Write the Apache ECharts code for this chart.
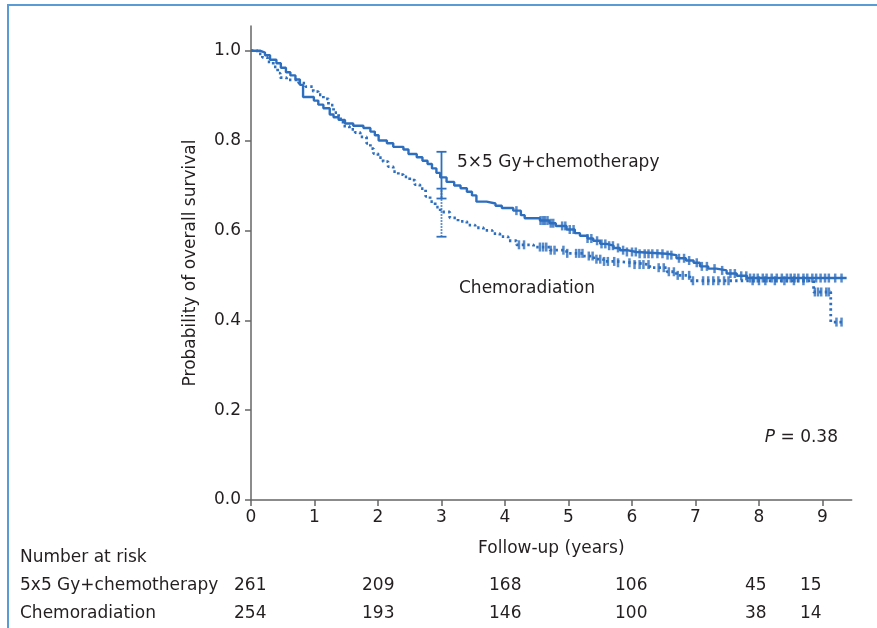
<!DOCTYPE html>
<html>
<head>
<meta charset="utf-8">
<script src="https://cdn.jsdelivr.net/npm/echarts@6/dist/echarts.min.js"></script>
<style>
html,body{margin:0;padding:0;background:#fff;}
#main{width:877px;height:628px;}
</style>
</head>
<body>
<div id="main"></div>
<script>
// ---------- DATA ----------
var xTicks = [0, 1, 2, 3, 4, 5, 6, 7, 8, 9];
var yTicks = [0, 0.2, 0.4, 0.6, 0.8, 1.0];

// 5x5 Gy + chemotherapy (solid) KM steps: time, survival
var solidT = [0, 0.14, 0.22, 0.30, 0.40, 0.47, 0.55, 0.62, 0.70, 0.77, 0.82, 0.99, 1.06, 1.14, 1.24, 1.30, 1.38, 1.48, 1.61, 1.77, 1.88, 1.95, 2.01, 2.14, 2.24, 2.40, 2.48, 2.61, 2.70, 2.78, 2.85, 2.92, 2.98, 3.08, 3.20, 3.30, 3.40, 3.48, 3.55, 3.71, 3.85, 3.95, 4.13, 4.25, 4.31, 4.55, 4.70, 4.80, 4.97, 5.10, 5.18, 5.30, 5.39, 5.50, 5.60, 5.71, 5.81, 5.92, 6.07, 6.55, 6.70, 6.85, 6.97, 7.07, 7.20, 7.33, 7.49, 7.65, 7.81, 9.38];
var solidS = [1.0, 0.996, 0.990, 0.980, 0.972, 0.962, 0.952, 0.945, 0.936, 0.924, 0.897, 0.889, 0.880, 0.872, 0.858, 0.852, 0.846, 0.838, 0.833, 0.828, 0.820, 0.812, 0.800, 0.794, 0.786, 0.780, 0.770, 0.763, 0.755, 0.748, 0.738, 0.728, 0.718, 0.708, 0.700, 0.694, 0.686, 0.678, 0.664, 0.660, 0.655, 0.650, 0.644, 0.634, 0.627, 0.622, 0.616, 0.610, 0.602, 0.594, 0.588, 0.582, 0.577, 0.570, 0.566, 0.561, 0.556, 0.552, 0.548, 0.545, 0.538, 0.533, 0.528, 0.520, 0.515, 0.511, 0.504, 0.499, 0.494, 0.494];

// Chemoradiation (dotted) KM steps
var chemoT = [0, 0.10, 0.18, 0.26, 0.35, 0.42, 0.46, 0.56, 0.75, 0.86, 0.98, 1.06, 1.14, 1.22, 1.30, 1.38, 1.45, 1.55, 1.64, 1.72, 1.82, 1.88, 1.93, 2.00, 2.08, 2.16, 2.24, 2.32, 2.40, 2.50, 2.58, 2.66, 2.75, 2.82, 2.90, 2.98, 3.13, 3.26, 3.40, 3.53, 3.66, 3.80, 3.92, 4.05, 4.18, 4.45, 4.71, 4.97, 5.23, 5.40, 5.55, 5.76, 6.02, 6.28, 6.55, 6.70, 6.91, 8.86, 9.13, 9.35];
var chemoS = [1.0, 0.993, 0.985, 0.975, 0.964, 0.950, 0.940, 0.935, 0.928, 0.920, 0.909, 0.902, 0.893, 0.879, 0.862, 0.848, 0.832, 0.825, 0.818, 0.808, 0.794, 0.782, 0.771, 0.762, 0.753, 0.742, 0.731, 0.724, 0.719, 0.712, 0.702, 0.693, 0.676, 0.664, 0.652, 0.641, 0.628, 0.620, 0.612, 0.606, 0.600, 0.593, 0.586, 0.577, 0.568, 0.563, 0.556, 0.549, 0.543, 0.536, 0.531, 0.528, 0.524, 0.517, 0.508, 0.500, 0.488, 0.463, 0.396, 0.396];

// censoring times
var solidCensor = [4.18, 4.56, 4.60, 4.63, 4.67, 4.72, 4.76, 4.90, 4.95, 5.02, 5.08, 5.30, 5.36, 5.45, 5.52, 5.58, 5.64, 5.70, 5.78, 5.86, 5.92, 6.00, 6.06, 6.12, 6.20, 6.26, 6.32, 6.40, 6.48, 6.56, 6.62, 6.74, 6.82, 6.90, 7.02, 7.10, 7.18, 7.30, 7.42, 7.55, 7.62, 7.72, 7.80, 7.86, 7.92, 7.98, 8.06, 8.12, 8.20, 8.28, 8.36, 8.44, 8.50, 8.56, 8.62, 8.70, 8.76, 8.84, 8.90, 8.97, 9.04, 9.10, 9.20, 9.30];
var chemoCensor = [4.22, 4.30, 4.55, 4.60, 4.65, 4.72, 4.78, 4.92, 4.98, 5.12, 5.17, 5.22, 5.32, 5.38, 5.44, 5.50, 5.56, 5.62, 5.72, 5.78, 5.96, 6.04, 6.12, 6.18, 6.26, 6.42, 6.50, 6.58, 6.66, 6.72, 6.80, 6.90, 6.96, 7.12, 7.20, 7.28, 7.36, 7.45, 7.52, 7.90, 8.00, 8.10, 8.25, 8.40, 8.55, 8.70, 8.88, 8.93, 8.98, 9.06, 9.10, 9.22, 9.30];

// 95% CI at 3 years
var ciTime = 3;
var solidCI = [0.671, 0.775];
var chemoCI = [0.586, 0.693];

// number at risk
var riskLabels = ['5x5 Gy+chemotherapy', 'Chemoradiation'];
var riskSolid = [261, 209, 168, 106, 45, 15];
var riskChemo = [254, 193, 146, 100, 38, 14];

// ---------- BUILD ----------
var BLUE = '#2d6ebe';
var TXT = '#231f20';
var FONT = 'DejaVu Sans';
var FS = 17;

function pairs(t, s) { return t.map(function (v, i) { return [v, s[i]]; }); }
function stepAt(t, T, S) {
  var v = S[0];
  for (var i = 0; i < T.length; i++) { if (T[i] <= t) v = S[i]; else break; }
  return v;
}
function censorPts(C, T, S) { return C.map(function (c) { return [c, stepAt(c, T, S)]; }); }

function ciRender(dashed) {
  return function (params, api) {
    var lo = api.coord([api.value(0), api.value(1)]);
    var hi = api.coord([api.value(0), api.value(2)]);
    var w = 5;
    var st = { stroke: BLUE, lineWidth: 1.8 };
    var lst = { stroke: BLUE, lineWidth: 1.8, lineDash: dashed ? [1.5, 1.5] : null };
    return {
      type: 'group',
      children: [
        { type: 'line', shape: { x1: lo[0], y1: lo[1], x2: hi[0], y2: hi[1] }, style: lst },
        { type: 'line', shape: { x1: lo[0] - w, y1: lo[1], x2: lo[0] + w, y2: lo[1] }, style: st },
        { type: 'line', shape: { x1: hi[0] - w, y1: hi[1], x2: hi[0] + w, y2: hi[1] }, style: st }
      ]
    };
  };
}

var riskX = [234, 362, 489, 615, 745, 800];
function txt(x, y, s, align) {
  return { type: 'text', x: x, y: y, style: { text: s, font: FS + 'px ' + FONT, fill: TXT, align: align || 'left', verticalAlign: 'middle', textAlign: align || 'left', textVerticalAlign: 'middle' } };
}
var graphics = [
  { type: 'rect', shape: { x: 8, y: 5, width: 1000, height: 1000 }, style: { fill: 'none', stroke: '#5b9bd5', lineWidth: 2 }, silent: true },
  txt(457, 163, '5\u00d75 Gy+chemotherapy'),
  txt(459, 289, 'Chemoradiation'),
  { type: 'text', x: 838, y: 438, style: { text: '{i|P} = 0.38', font: FS + 'px ' + FONT, fill: TXT, align: 'right', verticalAlign: 'middle', textAlign: 'right', textVerticalAlign: 'middle',
      rich: { i: { fontStyle: 'italic', fontFamily: FONT, fontSize: FS, fill: TXT } } } },
  txt(20, 558, 'Number at risk')
];
[riskSolid, riskChemo].forEach(function (row, r) {
  var y = 586 + r * 28;
  graphics.push(txt(20, y, riskLabels[r]));
  row.forEach(function (n, i) { graphics.push(txt(riskX[i], y, String(n))); });
});

var axisLineStyle = { color: '#666666', width: 1.5 };
var option = {
  animation: false,
  backgroundColor: '#ffffff',
  grid: { left: 251, top: 26, width: 600.7, height: 474, containLabel: false },
  xAxis: {
    type: 'value', min: 0, max: 9.46,
    name: 'Follow-up (years)', nameLocation: 'middle', nameGap: 40,
    nameTextStyle: { fontFamily: FONT, fontSize: FS, color: TXT },
    axisLine: { show: true, lineStyle: axisLineStyle },
    axisTick: { show: true, length: 6, lineStyle: axisLineStyle, customValues: xTicks },
    axisLabel: { margin: 9, fontFamily: FONT, fontSize: FS, color: TXT, customValues: xTicks },
    splitLine: { show: false }
  },
  yAxis: {
    type: 'value', min: 0, max: 1.055,
    name: 'Probability of overall survival', nameLocation: 'middle', nameGap: 52, nameRotate: 90,
    nameTextStyle: { fontFamily: FONT, fontSize: FS, color: TXT },
    axisLine: { show: true, lineStyle: axisLineStyle },
    axisTick: { show: true, length: 6, lineStyle: axisLineStyle, customValues: yTicks },
    axisLabel: { margin: 10, fontFamily: FONT, fontSize: FS, color: TXT, customValues: yTicks,
      formatter: function (v) { return Number(v).toFixed(1); } },
    splitLine: { show: false }
  },
  series: [
    { name: 'Chemoradiation', type: 'line', step: 'end', symbol: 'none', data: pairs(chemoT, chemoS),
      lineStyle: { color: BLUE, width: 2.8, type: [2.4, 3.2], cap: 'butt' }, z: 2 },
    { name: '5x5 Gy+chemotherapy', type: 'line', step: 'end', symbol: 'none', data: pairs(solidT, solidS),
      lineStyle: { color: BLUE, width: 2.4 }, z: 3 },
    { type: 'scatter', symbol: 'rect', symbolSize: [2.5, 9], data: censorPts(chemoCensor, chemoT, chemoS),
      itemStyle: { color: BLUE }, z: 4 },
    { type: 'scatter', symbol: 'rect', symbolSize: [2.5, 9], data: censorPts(solidCensor, solidT, solidS),
      itemStyle: { color: BLUE }, z: 4 },
    { type: 'custom', renderItem: ciRender(false), data: [[ciTime, solidCI[0], solidCI[1]]], z: 5 },
    { type: 'custom', renderItem: ciRender(true), data: [[ciTime, chemoCI[0], chemoCI[1]]], z: 5 }
  ],
  graphic: graphics
};

var chart = echarts.init(document.getElementById('main'), null, { renderer: 'canvas' });
chart.setOption(option);
</script>
</body>
</html>
